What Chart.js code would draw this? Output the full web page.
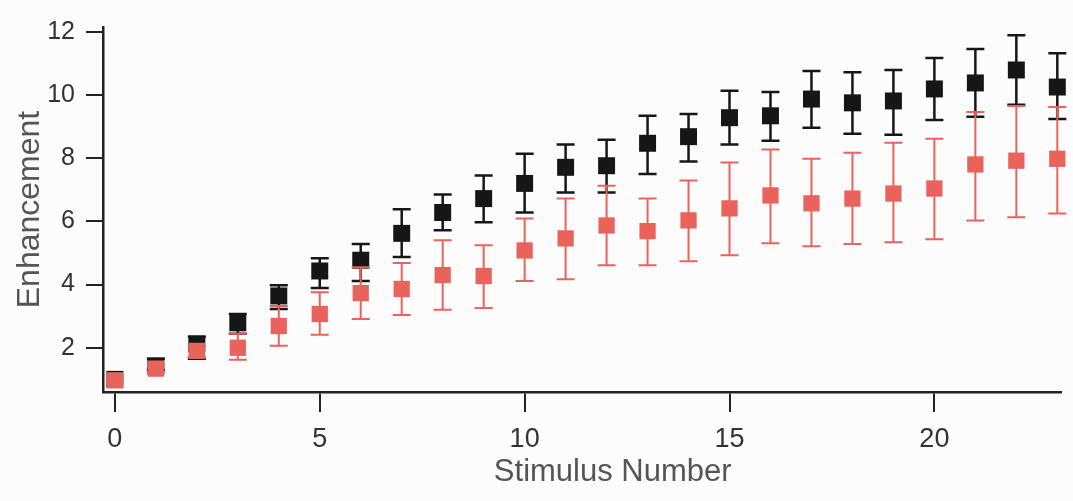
<!DOCTYPE html>
<html>
<head>
<meta charset="utf-8">
<script src="https://cdn.jsdelivr.net/npm/chart.js@4.4.1/dist/chart.umd.min.js"></script>
<style>
  html, body { margin: 0; padding: 0; background: #fcfcfc; }
  #wrap { width: 1073px; height: 501px; }
</style>
</head>
<body>
<div id="wrap"><canvas id="c" width="1073" height="501"></canvas></div>
<script>
// ---- data ----
const stimulus = [0,1,2,3,4,5,6,7,8,9,10,11,12,13,14,15,16,17,18,19,20,21,22,23];

const blackMean  = [1.00,1.42,2.12,2.79,3.64,4.43,4.77,5.62,6.28,6.72,7.20,7.71,7.76,8.47,8.68,9.28,9.34,9.87,9.75,9.81,10.19,10.38,10.79,10.25];
const blackUpper = [1.00,1.65,2.35,3.07,3.98,4.83,5.28,6.38,6.85,7.45,8.14,8.43,8.58,9.34,9.40,10.13,10.09,10.76,10.72,10.79,11.17,11.45,11.89,11.32];
const blackLower = [1.00,1.30,1.65,2.44,3.23,3.89,4.11,4.87,5.72,5.97,6.28,6.91,6.91,7.50,7.89,8.43,8.55,8.96,8.77,8.74,9.21,9.31,9.69,9.24];

const redMean  = [0.97,1.34,1.90,2.00,2.69,3.07,3.73,3.86,4.30,4.27,5.08,5.46,5.87,5.69,6.03,6.41,6.82,6.57,6.72,6.88,7.04,7.80,7.92,7.98];
const redUpper = [1.05,1.45,2.05,2.44,3.32,3.76,4.55,4.68,5.40,5.24,6.09,6.72,7.13,6.72,7.29,7.86,8.27,7.98,8.17,8.49,8.61,9.46,9.65,9.62];
const redLower = [0.90,1.25,1.72,1.62,2.06,2.41,2.91,3.04,3.20,3.26,4.11,4.17,4.61,4.61,4.74,4.93,5.31,5.21,5.28,5.34,5.43,6.03,6.13,6.25];

const xTicks = [0,5,10,15,20];
const yTicks = [2,4,6,8,10,12];
const xTitle = 'Stimulus Number';
const yTitle = 'Enhancement';

// ---- build chart ----
const BLACK = '#161616';
const RED = '#ea625c';

function pts(means, up, lo) {
  return stimulus.map((x, i) => ({ x: x, y: means[i], yMax: up[i], yMin: lo[i] }));
}

const errorBars = {
  id: 'errorBars',
  beforeDatasetDraw(chart, args) {
    const ds = chart.data.datasets[args.index];
    const ys = chart.scales.y, xs = chart.scales.x;
    const ctx = chart.ctx;
    ctx.save();
    ctx.strokeStyle = ds.errColor;
    ctx.lineWidth = ds.errWidth;
    const cap = 9;
    ds.data.forEach((d) => {
      const px = xs.getPixelForValue(d.x);
      const yTop = ys.getPixelForValue(d.yMax);
      const yBot = ys.getPixelForValue(d.yMin);
      if (Math.abs(yBot - yTop) < 0.5) return;
      ctx.beginPath();
      ctx.moveTo(px, yTop); ctx.lineTo(px, yBot);
      ctx.moveTo(px - cap, yTop); ctx.lineTo(px + cap, yTop);
      ctx.moveTo(px - cap, yBot); ctx.lineTo(px + cap, yBot);
      ctx.stroke();
    });
    ctx.restore();
  }
};

const bg = {
  id: 'bg',
  beforeDraw(chart) {
    const ctx = chart.ctx;
    ctx.save();
    ctx.fillStyle = '#fcfcfc';
    ctx.fillRect(0, 0, chart.width, chart.height);
    ctx.restore();
  }
};

const xTitlePlugin = {
  id: 'xTitlePlugin',
  afterDraw(chart) {
    const ctx = chart.ctx;
    const xs = chart.scales.x;
    ctx.save();
    ctx.font = '31px "Liberation Sans", Arial, sans-serif';
    ctx.fillStyle = '#555555';
    ctx.textAlign = 'center';
    ctx.textBaseline = 'middle';
    ctx.fillText(xTitle, xs.getPixelForValue(12.15), 472);
    ctx.restore();
  }
};

new Chart(document.getElementById('c'), {
  type: 'scatter',
  data: {
    datasets: [
      {
        label: 'red',
        data: pts(redMean, redUpper, redLower),
        backgroundColor: RED, borderColor: RED, borderWidth: 0,
        pointStyle: 'rect', pointRadius: 11.5, pointHoverRadius: 11.5,
        errColor: RED, errWidth: 2,
        order: 0, clip: false
      },
      {
        label: 'black',
        data: pts(blackMean, blackUpper, blackLower),
        backgroundColor: BLACK, borderColor: BLACK, borderWidth: 0,
        pointStyle: 'rect', pointRadius: 12, pointHoverRadius: 12,
        errColor: BLACK, errWidth: 2.5,
        order: 1, clip: false
      }
    ]
  },
  options: {
    responsive: false,
    devicePixelRatio: 1,
    animation: false,
    layout: { padding: { top: 27, right: 9, left: 0, bottom: 0 } },
    plugins: { legend: { display: false }, tooltip: { enabled: false } },
    scales: {
      x: {
        type: 'linear',
        min: -0.29, max: 23.09,
        afterFit(s) { s.height = 109; },
        afterBuildTicks(s) { s.ticks = xTicks.map(v => ({ value: v })); },
        grid: { drawOnChartArea: false, drawTicks: true, tickLength: 20, color: '#222', lineWidth: 2 },
        border: { display: true, color: '#222', width: 2.5 },
        ticks: {
          color: '#333', padding: 11, maxRotation: 0, autoSkip: false,
          font: { family: '"Liberation Sans", Arial, sans-serif', size: 27 },
          callback: (v) => String(v)
        },
        title: { display: false }
      },
      y: {
        type: 'linear',
        min: 0.6, max: 12.15,
        afterFit(s) { s.width = 103; },
        afterBuildTicks(s) { s.ticks = yTicks.map(v => ({ value: v })); },
        grid: { drawOnChartArea: false, drawTicks: true, tickLength: 17, color: '#222', lineWidth: 2 },
        border: { display: true, color: '#222', width: 2.5 },
        ticks: {
          color: '#333', padding: 11, autoSkip: false,
          font: { family: '"Liberation Sans", Arial, sans-serif', size: 25 },
          callback: (v) => String(v)
        },
        title: {
          display: true, text: yTitle, color: '#555555', padding: { top: 11, bottom: 0 },
          font: { family: '"Liberation Sans", Arial, sans-serif', size: 32 }
        }
      }
    }
  },
  plugins: [bg, errorBars, xTitlePlugin]
});
</script>
</body>
</html>
